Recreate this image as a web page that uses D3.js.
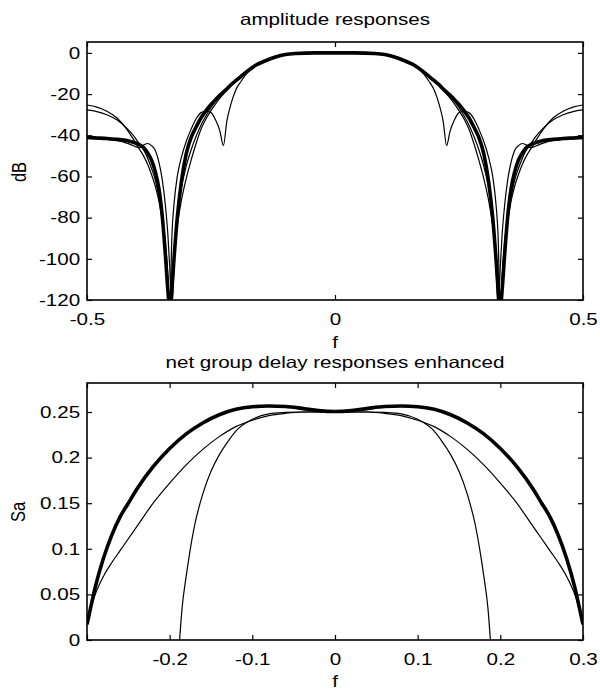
<!DOCTYPE html>
<html>
<head>
<meta charset="utf-8">
<script src="https://cdn.jsdelivr.net/npm/d3@7"></script>
<style>
  body { margin: 0; background: #fff; }
  text { font-family: "Liberation Sans", Arial, sans-serif; fill: #000; }
</style>
</head>
<body>
<div id="chart-container"></div>
<script>
const W = 600, H = 698;
const sx = 1.25;          // the scan is stretched sideways, so is the text
const fontSize = 16.5;

// amplitude responses (dB) on a shared frequency grid
const fTop = [-0.5, -0.48, -0.46, -0.44, -0.42, -0.405, -0.395, -0.386, -0.378, -0.37, -0.362, -0.355, -0.348, -0.342, -0.337, -0.333, -0.329, -0.324, -0.318, -0.31, -0.3, -0.29, -0.28, -0.27, -0.26, -0.25, -0.24, -0.232, -0.225, -0.218, -0.21, -0.2, -0.19, -0.18, -0.16, -0.14, -0.12, -0.1, -0.08, -0.04,
  0, 0.04, 0.08, 0.1, 0.12, 0.14, 0.16, 0.18, 0.19, 0.2, 0.21, 0.218, 0.225, 0.232, 0.24, 0.25, 0.26, 0.27, 0.28, 0.29, 0.3, 0.31, 0.318, 0.324, 0.329, 0.333, 0.337, 0.342, 0.348, 0.355, 0.362, 0.37, 0.378, 0.386, 0.395, 0.405, 0.42, 0.44, 0.46, 0.48, 0.5];

const ampThick = [-41, -41.3, -41.6, -42, -42.5, -43.5, -44.5, -46, -48.5, -52, -58, -66, -80, -98, -115, -125, -115, -98, -80, -63, -49, -41, -36, -31.5, -28, -25, -22.5, -20.5, -19, -17.5, -15.5, -13.5, -11.5, -9.5, -6, -3.8, -2, -0.8, -0.3, 0,
  0, 0, -0.3, -0.8, -2, -3.8, -6, -9.5, -11.5, -13.5, -15.5, -17.5, -19, -20.5, -22.5, -25, -28, -31.5, -36, -41, -49, -63, -80, -98, -115, -125, -115, -98, -80, -66, -58, -52, -48.5, -46, -44.5, -43.5, -42.5, -42, -41.6, -41.3, -41];

const ampEllip = [-25.3, -26.3, -28.3, -31.5, -37, -42.5, -46.5, -50, -54, -59, -65, -72, -82, -95, -110, -125, -90, -72, -60, -51, -43, -37, -32, -29, -28.3, -29, -33, -38, -45, -33, -25, -18, -14, -10.5, -6, -3.8, -2, -0.8, -0.3, 0,
  0, 0, -0.3, -0.8, -2, -3.8, -6, -10.5, -14, -18, -25, -33, -45, -38, -33, -29, -28.3, -29, -32, -37, -43, -51, -60, -72, -90, -125, -110, -95, -82, -72, -65, -59, -54, -50, -46.5, -42.5, -37, -31.5, -28.3, -26.3, -25.3];

const ampBump = [-41.5, -41.7, -42, -42.5, -43.8, -45.2, -46, -44.8, -44, -45, -47.5, -53, -62, -74, -88, -105, -125, -100, -80, -66, -55, -47, -40.5, -35, -30.5, -26.5, -23, -20.5, -18.5, -16.8, -15, -13, -11.2, -9.5, -6, -3.8, -2, -0.8, -0.3, 0,
  0, 0, -0.3, -0.8, -2, -3.8, -6, -9.5, -11.2, -13, -15, -16.8, -18.5, -20.5, -23, -26.5, -30.5, -35, -40.5, -47, -55, -66, -80, -100, -125, -105, -88, -74, -62, -53, -47.5, -45, -44, -44.8, -46, -45.2, -43.8, -42.5, -42, -41.7, -41.5];

const ampWide = [-27.7, -28.5, -30, -32.5, -36.5, -40.5, -44, -47, -51, -56, -62, -70, -80, -92, -108, -125, -110, -96, -84, -72, -61, -52, -44, -37, -32, -28, -24.5, -22, -20, -18, -15.8, -13.5, -11.5, -9.5, -6, -3.8, -2, -0.8, -0.3, 0,
  0, 0, -0.3, -0.8, -2, -3.8, -6, -9.5, -11.5, -13.5, -15.8, -18, -20, -22, -24.5, -28, -32, -37, -44, -52, -61, -72, -84, -96, -110, -125, -108, -92, -80, -70, -62, -56, -51, -47, -44, -40.5, -36.5, -32.5, -30, -28.5, -27.7];

// net group delay responses
const fBot = [-0.3, -0.295, -0.29, -0.28, -0.27, -0.26, -0.25, -0.24, -0.22, -0.2, -0.18, -0.16, -0.14, -0.12, -0.1, -0.08, -0.06, -0.04, -0.02,
  0, 0.02, 0.04, 0.06, 0.08, 0.1, 0.12, 0.14, 0.16, 0.18, 0.2, 0.22, 0.24, 0.25, 0.26, 0.27, 0.28, 0.29, 0.295, 0.3];
const gdThick = [0.017, 0.038, 0.058, 0.09, 0.115, 0.135, 0.15, 0.165, 0.19, 0.21, 0.226, 0.238, 0.247, 0.253, 0.2558, 0.2565, 0.256, 0.254, 0.2515,
  0.2505, 0.2515, 0.254, 0.256, 0.2565, 0.2558, 0.253, 0.247, 0.238, 0.226, 0.21, 0.19, 0.165, 0.15, 0.135, 0.115, 0.09, 0.058, 0.038, 0.017];
const gdWide = [0.02, 0.036, 0.05, 0.07, 0.085, 0.098, 0.111, 0.124, 0.15, 0.172, 0.192, 0.209, 0.223, 0.234, 0.241, 0.246, 0.2485, 0.25, 0.2502,
  0.2502, 0.2502, 0.25, 0.2485, 0.246, 0.241, 0.234, 0.223, 0.209, 0.192, 0.172, 0.15, 0.124, 0.111, 0.098, 0.085, 0.07, 0.05, 0.036, 0.02];
const fNarrow = [-0.188, -0.185, -0.18, -0.175, -0.17, -0.16, -0.15, -0.14, -0.13, -0.12, -0.1, -0.08, -0.06, -0.04, -0.02,
  0, 0.02, 0.04, 0.06, 0.08, 0.1, 0.12, 0.13, 0.14, 0.15, 0.16, 0.17, 0.175, 0.18, 0.185, 0.188];
const gdNarrow = [0, 0.035, 0.07, 0.1, 0.125, 0.16, 0.185, 0.203, 0.217, 0.229, 0.242, 0.248, 0.2495, 0.25, 0.25,
  0.25, 0.25, 0.25, 0.2495, 0.248, 0.242, 0.229, 0.217, 0.203, 0.185, 0.16, 0.125, 0.1, 0.07, 0.035, 0];

// tick values
const topXTicks = [-0.5, 0, 0.5];
const topXLabels = ["-0.5", "0", "0.5"];
const topYTicks = [0, -20, -40, -60, -80, -100, -120];
const botXTicks = [-0.3, -0.2, -0.1, 0, 0.1, 0.2, 0.3];
const botXLabels = ["", "-0.2", "-0.1", "0", "0.1", "0.2", "0.3"];
const botYTicks = [0, 0.05, 0.1, 0.15, 0.2, 0.25];

const svg = d3.select("#chart-container")
    .append("svg")
    .attr("width", W)
    .attr("height", H);

const defs = svg.append("defs");

// draws one boxed axes; returns scales and a clipped group
function makePanel(id, box, xDomain, yDomain, xTicks, xLabels, yTicks, yFmt) {
    const x = d3.scaleLinear().domain(xDomain).range([box.left, box.right]);
    const y = d3.scaleLinear().domain(yDomain).range([box.bottom, box.top]);

    defs.append("clipPath").attr("id", id)
        .append("rect")
        .attr("x", box.left).attr("y", box.top)
        .attr("width", box.right - box.left)
        .attr("height", box.bottom - box.top);

    const area = svg.append("g").attr("clip-path", `url(#${id})`);

    // bottom axis with labels
    const gx = svg.append("g")
        .attr("transform", `translate(0, ${box.bottom})`)
        .call(d3.axisBottom(x).tickValues(xTicks).tickSize(-5).tickPadding(13)
            .tickFormat((d, i) => xLabels[i]));
    gx.selectAll("text").attr("transform", `scale(${sx},1)`);

    // top axis, ticks only
    svg.append("g")
        .attr("transform", `translate(0, ${box.top})`)
        .call(d3.axisTop(x).tickValues(xTicks).tickSize(-5).tickFormat(""));

    // left axis with labels
    const gy = svg.append("g")
        .attr("transform", `translate(${box.left}, 0)`)
        .call(d3.axisLeft(y).tickValues(yTicks).tickSize(-5).tickPadding(5.5).tickFormat(yFmt));
    gy.selectAll("text").attr("transform", `scale(${sx},1)`);

    // right axis, ticks only
    svg.append("g")
        .attr("transform", `translate(${box.right}, 0)`)
        .call(d3.axisRight(y).tickValues(yTicks).tickSize(-5).tickFormat(""));

    svg.selectAll(".domain").remove();
    svg.selectAll(".tick line").attr("stroke", "#000").attr("stroke-width", 1.2);
    svg.selectAll(".tick text")
        .attr("fill", "#000")
        .style("font-size", fontSize + "px")
        .style("font-family", '"Liberation Sans", Arial, sans-serif');

    // frame
    svg.append("rect")
        .attr("x", box.left).attr("y", box.top)
        .attr("width", box.right - box.left)
        .attr("height", box.bottom - box.top)
        .attr("fill", "none")
        .attr("stroke", "#000")
        .attr("stroke-width", 1.6);

    return { x, y, area };
}

function addText(str, x, y, rotate) {
    const t = svg.append("text")
        .attr("text-anchor", "middle")
        .style("font-size", fontSize + "px")
        .text(str);
    if (rotate) t.attr("transform", `translate(${x}, ${y}) rotate(-90) scale(1, ${sx})`);
    else t.attr("transform", `translate(${x}, ${y}) scale(${sx}, 1)`);
}

function drawCurve(panel, fs, vs, width) {
    const pts = fs.map((f, i) => [f, vs[i]]);
    const line = d3.line()
        .x(d => panel.x(d[0]))
        .y(d => panel.y(d[1]))
        .curve(d3.curveMonotoneX);
    panel.area.append("path")
        .datum(pts)
        .attr("fill", "none")
        .attr("stroke", "#000")
        .attr("stroke-width", width)
        .attr("stroke-linejoin", "round")
        .attr("d", line);
}

// ---- top panel: amplitude responses
const ampPanel = makePanel("clip-top", { left: 87, right: 583, top: 42, bottom: 300 },
    [-0.5, 0.5], [-120, 5.3], topXTicks, topXLabels, topYTicks,
    d => String(d));

drawCurve(ampPanel, fTop, ampEllip, 1.2);
drawCurve(ampPanel, fTop, ampWide, 1.2);
drawCurve(ampPanel, fTop, ampBump, 1.2);
drawCurve(ampPanel, fTop, ampThick, 3.6);

addText("amplitude responses", 335, 25);
addText("f", 335, 348);
addText("dB", 26, 172, true);

// ---- bottom panel: net group delay responses
const gdPanel = makePanel("clip-bot", { left: 87, right: 583, top: 383, bottom: 640 },
    [-0.3, 0.3], [0, 0.2818], botXTicks, botXLabels, botYTicks,
    d => String(d));

drawCurve(gdPanel, fBot, gdWide, 1.2);
drawCurve(gdPanel, fNarrow, gdNarrow, 1.2);
drawCurve(gdPanel, fBot, gdThick, 3.6);

addText("net group delay responses enhanced", 335, 368);
addText("f", 335, 687);
addText("Sa", 25, 512, true);
</script>
</body>
</html>
